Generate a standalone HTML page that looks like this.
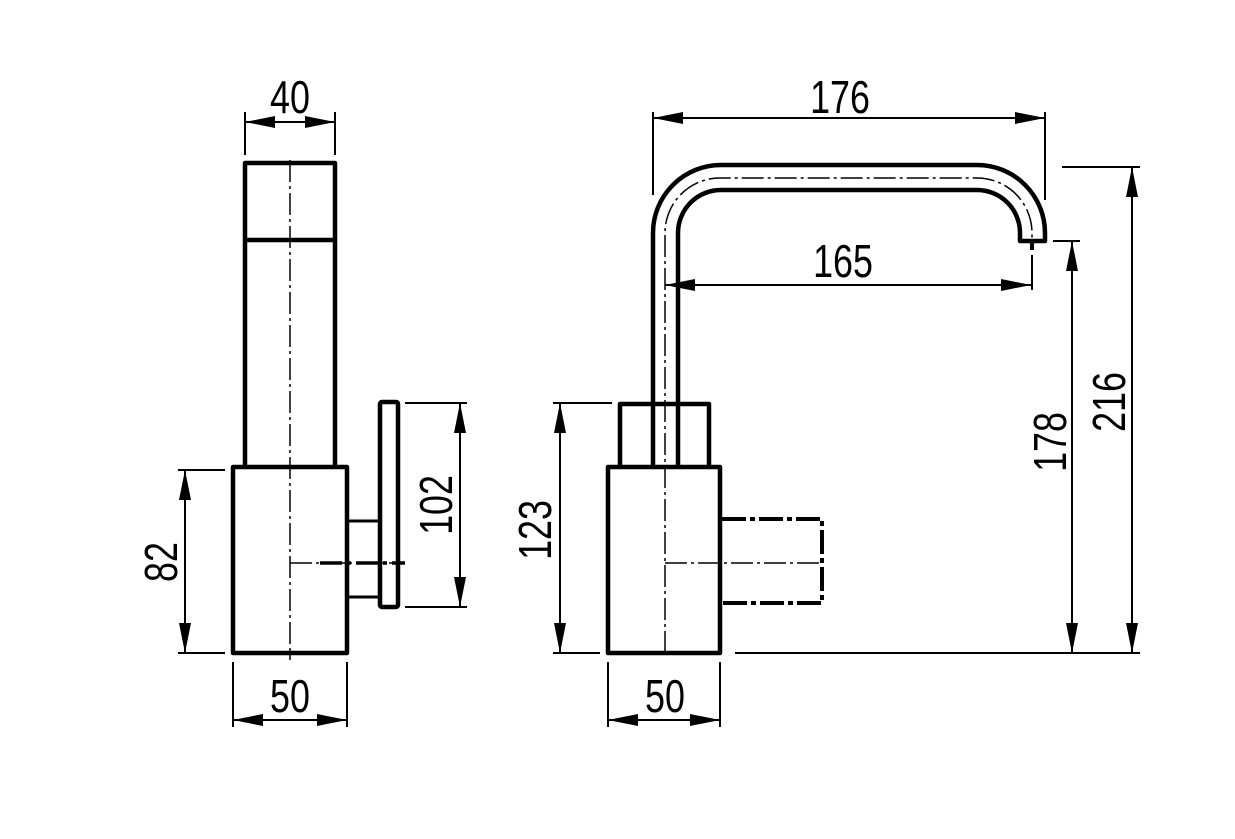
<!DOCTYPE html>
<html><head><meta charset="utf-8"><style>
html,body{margin:0;padding:0;background:#fff}
svg{display:block}
text{font-family:"Liberation Sans",sans-serif;font-size:46px;fill:#000}
</style></head><body>
<svg width="1235" height="839" viewBox="0 0 1235 839" xmlns="http://www.w3.org/2000/svg">
<defs>
<marker id="a" viewBox="0 0 30 12" refX="30" refY="6" markerWidth="30" markerHeight="12" markerUnits="userSpaceOnUse" orient="auto-start-reverse"><path d="M0,0 L30,6 L0,12 Z" fill="#000"/></marker>
</defs>
<g fill="none" stroke="#000">
<!-- LEFT VIEW -->
<g stroke-width="4.5" stroke-linejoin="round">
<path d="M245,467 V163 H335 V467"/>
<line x1="245" y1="240" x2="335" y2="240"/>
<rect x="233" y="467" width="114" height="186"/>
<rect x="380" y="402" width="18" height="205" rx="2"/>
</g>
<g stroke-width="3">
<line x1="347" y1="521" x2="380" y2="521"/>
<line x1="347" y1="597" x2="380" y2="597"/>
</g>
<line x1="290" y1="160" x2="290" y2="660" stroke-width="1.5" stroke-dasharray="22,4,3,4"/>
<line x1="290" y1="563" x2="405" y2="563" stroke-width="1.5" stroke-dasharray="22,4,3,4"/>
<line x1="320" y1="563" x2="405" y2="563" stroke-width="3.5" stroke-dasharray="22,5,4,5"/>
<!-- left dims -->
<g stroke-width="2">
<line x1="245" y1="112" x2="245" y2="155"/>
<line x1="335" y1="112" x2="335" y2="155"/>
<line x1="245" y1="122" x2="335" y2="122" marker-start="url(#a)" marker-end="url(#a)"/>
<line x1="178" y1="470" x2="225" y2="470"/>
<line x1="178" y1="653" x2="225" y2="653"/>
<line x1="185" y1="470" x2="185" y2="653" marker-start="url(#a)" marker-end="url(#a)"/>
<line x1="405" y1="403" x2="467" y2="403"/>
<line x1="405" y1="607" x2="467" y2="607"/>
<line x1="460" y1="403" x2="460" y2="607" marker-start="url(#a)" marker-end="url(#a)"/>
<line x1="233" y1="662" x2="233" y2="727"/>
<line x1="347" y1="662" x2="347" y2="727"/>
<line x1="233" y1="720" x2="347" y2="720" marker-start="url(#a)" marker-end="url(#a)"/>
</g>
<!-- RIGHT VIEW -->
<g stroke-width="4.5" stroke-linejoin="round">
<rect x="608" y="467" width="112" height="186"/>
<path d="M620,467 V404 H709 V467"/>
<path d="M653,467 V233 A68,68 0 0 1 721,165 H977 A68,68 0 0 1 1045,233 V241 H1020 V233 A43,43 0 0 0 977,190 H721 A43,43 0 0 0 678,233 V467"/>
</g>
<path d="M665,653 V233 A55,55 0 0 1 721,178 H977 A55,55 0 0 1 1032,233 V245" stroke-width="1.5" stroke-dasharray="22,4,3,4"/>
<line x1="1032" y1="241" x2="1032" y2="250" stroke-width="4"/>
<line x1="665" y1="563" x2="820" y2="563" stroke-width="1.5" stroke-dasharray="22,4,3,4"/>
<path d="M722,519 H822 V603 H722" stroke-width="4" stroke-dasharray="24,4,5,4"/>
<!-- right dims -->
<g stroke-width="2">
<line x1="653" y1="112" x2="653" y2="195"/>
<line x1="1045" y1="112" x2="1045" y2="200"/>
<line x1="653" y1="118" x2="1045" y2="118" marker-start="url(#a)" marker-end="url(#a)"/>
<line x1="1032" y1="255" x2="1032" y2="290"/>
<line x1="665" y1="285" x2="1031" y2="285" marker-start="url(#a)" marker-end="url(#a)"/>
<line x1="1062" y1="167" x2="1140" y2="167"/>
<line x1="1132" y1="167" x2="1132" y2="653" marker-start="url(#a)" marker-end="url(#a)"/>
<line x1="1053" y1="241" x2="1080" y2="241"/>
<line x1="1072" y1="241" x2="1072" y2="653" marker-start="url(#a)" marker-end="url(#a)"/>
<line x1="735" y1="653" x2="1140" y2="653"/>
<line x1="553" y1="403" x2="612" y2="403"/>
<line x1="553" y1="653" x2="600" y2="653"/>
<line x1="560" y1="403" x2="560" y2="653" marker-start="url(#a)" marker-end="url(#a)"/>
<line x1="608" y1="662" x2="608" y2="727"/>
<line x1="720" y1="662" x2="720" y2="727"/>
<line x1="608" y1="720" x2="720" y2="720" marker-start="url(#a)" marker-end="url(#a)"/>
</g>
</g>
<!-- labels -->
<g text-anchor="middle">
<text transform="translate(290,113) scale(0.78,1)">40</text>
<text transform="translate(290,712) scale(0.78,1)">50</text>
<text transform="translate(665,712) scale(0.78,1)">50</text>
<text transform="translate(840,113) scale(0.78,1)">176</text>
<text transform="translate(843,277) scale(0.78,1)">165</text>
<text transform="translate(177,562) rotate(-90) scale(0.78,1)">82</text>
<text transform="translate(452,505) rotate(-90) scale(0.78,1)">102</text>
<text transform="translate(551,530) rotate(-90) scale(0.78,1)">123</text>
<text transform="translate(1066,442) rotate(-90) scale(0.78,1)">178</text>
<text transform="translate(1125,402) rotate(-90) scale(0.78,1)">216</text>
</g>
</svg>
</body></html>
